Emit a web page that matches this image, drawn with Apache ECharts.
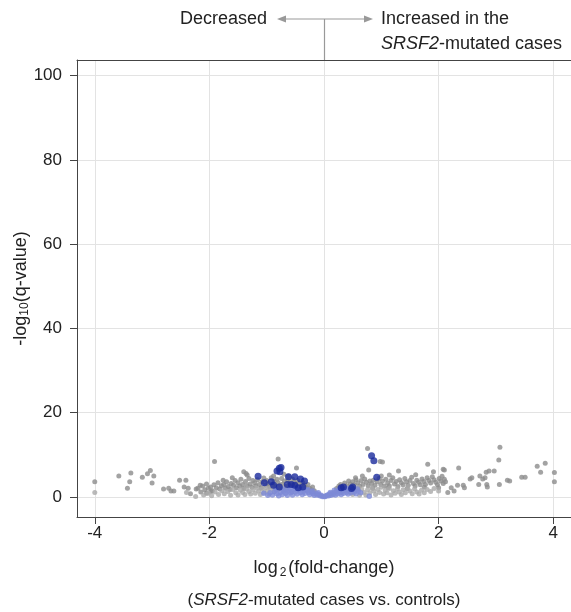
<!DOCTYPE html>
<html>
<head>
<meta charset="utf-8">
<script src="https://cdn.jsdelivr.net/npm/echarts@6/dist/echarts.min.js"></script>
<style>html,body{margin:0;padding:0;background:#fff;}#c{width:571px;height:612px;}</style>
</head>
<body>
<div id="c"></div>
<script>
// ---- data: [log2 fold-change, -log10 q-value] ----
const xTicks = [-4, -2, 0, 2, 4];
const yTicks = [0, 20, 40, 60, 80, 100];

const grayDark = [
  [-4.0,3.6],[-3.58,5.0],[-3.37,5.7],[-3.39,3.6],[-3.43,2.1],[-3.17,4.7],[-3.08,5.5],[-3.03,6.3],[-2.97,5.0],[-3.0,3.3],
  [-2.80,1.9],[-2.71,2.1],[-2.67,1.4],[-2.62,1.4],[-2.52,4.0],[-2.41,4.0],[-2.44,2.4],[-2.37,2.1],[-2.33,0.8],[-2.23,1.9],
  [-2.16,2.8],[-1.91,8.4],[-2.20,2.1],[-2.02,2.1],[-1.76,4.0],[-1.40,6.0],[-1.36,5.6],[-0.80,9.0],[-0.48,6.9],
  [-2.12,2.6],[-2.08,1.7],[-2.05,3.1],[-1.98,2.4],[-1.95,1.5],[-1.92,2.9],[-1.88,2.2],[-1.85,3.4],[-1.82,1.9],[-1.79,2.7],
  [-1.75,3.0],[-1.72,2.1],[-1.70,3.6],[-1.67,2.5],[-1.64,1.8],[-1.62,3.2],[-1.58,2.8],[-1.55,3.9],[-1.53,2.2],[-1.50,3.4],
  [-1.47,2.6],[-1.45,4.2],[-1.42,3.0],[-1.40,2.0],[-1.37,3.7],[-1.34,2.7],[-1.31,4.4],[-1.29,3.1],[-1.26,2.3],[-1.24,3.9],
  [-1.21,3.4],[-1.19,2.6],[-1.16,4.1],[-1.13,3.0],[-1.10,2.2],[-1.08,3.6],[-1.05,4.5],[-1.02,2.8],[-1.00,3.9],[-0.97,3.2],
  [-0.95,2.4],[-0.92,4.6],[-0.90,3.0],[-0.87,3.8],[-0.85,2.6],[-0.82,4.2],[-0.80,3.4],[-0.77,2.8],[-0.74,4.4],[-0.72,3.1],
  [-0.69,3.8],[-0.66,2.5],[-0.63,4.0],[-0.60,3.3],[-0.58,2.7],[-0.55,4.3],[-0.52,3.5],[-0.49,2.9],[-0.46,3.9],[-0.43,3.2],
  [-0.40,2.6],[-0.37,3.4],[-0.34,2.8],[-0.31,2.3],[-0.28,3.0],[-0.25,2.1],[-0.22,1.7],[-0.20,2.4],[-0.17,1.5],
  [-1.60,4.6],[-1.34,5.2],[-0.88,5.0],[-0.70,5.4],[-0.62,5.0],[-2.15,1.2],[-2.05,0.9],[-1.97,1.3],
  [0.76,11.5],[0.98,8.4],[1.02,8.3],[0.78,6.4],[0.67,5.0],[1.30,6.2],[1.81,7.8],[1.91,6.0],[2.08,6.6],[3.07,11.8],
  [3.05,8.8],[2.10,6.4],[2.35,6.9],[2.22,2.2],[2.16,1.1],[2.27,1.4],[2.33,2.8],[2.43,2.8],[2.45,2.2],[2.55,4.3],
  [2.58,4.6],[2.70,3.0],[2.72,5.0],[2.77,4.3],[2.81,4.6],[2.83,5.9],[2.88,6.2],[2.97,6.2],[2.84,3.0],[2.85,2.4],
  [3.06,3.0],[3.20,4.0],[3.24,3.8],[3.45,4.7],[3.51,4.7],[3.72,7.3],[3.86,8.0],[3.78,5.9],[4.02,5.8],[4.02,3.6],
  [0.22,2.0],[0.26,2.6],[0.29,3.0],[0.32,2.3],[0.36,3.3],[0.40,2.7],[0.43,3.8],[0.46,3.1],[0.50,3.6],[0.53,2.9],
  [0.56,4.1],[0.59,3.4],[0.62,2.6],[0.65,3.9],[0.68,3.0],[0.71,4.3],[0.74,3.5],[0.77,2.7],[0.80,3.8],[0.83,3.2],
  [0.86,4.0],[0.89,2.8],[0.93,3.6],[0.96,4.4],[0.99,3.0],[1.02,3.8],[1.05,2.6],[1.08,4.2],[1.11,3.3],[1.14,2.7],
  [1.17,3.9],[1.20,4.6],[1.23,3.1],[1.26,3.7],[1.29,2.5],[1.32,4.1],[1.35,3.4],[1.38,2.9],[1.41,4.4],[1.44,3.6],
  [1.47,2.8],[1.50,3.9],[1.53,4.7],[1.56,3.2],[1.59,2.6],[1.62,4.0],[1.65,3.5],[1.68,2.9],[1.71,4.3],[1.74,3.7],
  [1.77,3.0],[1.80,4.6],[1.83,3.9],[1.86,3.3],[1.89,4.8],[1.92,4.1],[1.95,3.5],[1.98,2.9],[2.01,4.4],[2.04,3.8],
  [2.06,4.9],[2.08,3.2],[2.10,4.2],[2.12,3.6],[0.55,4.6],[1.00,5.0],[1.60,5.3],[1.14,5.2],[0.60,1.9],[0.85,2.1],
  [1.12,2.2],[1.45,2.0],[1.75,2.3],[2.00,2.2]
];

const grayLight = [
  [-4.0,1.1],[-2.40,1.1],[-2.24,0.1],
  [-2.10,0.5],[-2.02,0.9],[-1.96,0.3],[-1.90,1.2],[-1.84,0.6],[-1.78,1.5],[-1.74,0.8],[-1.68,1.3],[-1.63,0.4],[-1.59,1.8],
  [-1.54,1.0],[-1.50,0.5],[-1.46,1.6],[-1.42,1.1],[-1.38,0.6],[-1.35,1.9],[-1.31,1.3],[-1.28,0.7],[-1.24,1.7],[-1.20,0.9],
  [-1.17,2.1],[-1.14,1.4],[-1.11,0.6],[-1.08,1.9],[-1.05,1.1],[-1.02,2.2],[-0.99,1.5],[-0.96,0.7],[-0.93,1.8],[-0.90,2.3],
  [-0.87,1.2],[-0.84,2.0],[-0.81,1.6],[-0.78,2.4],[-0.75,1.9],[-0.72,2.2],[-0.68,1.7],[-0.64,2.1],
  [0.42,1.8],[0.46,1.2],[0.50,0.6],[0.54,1.6],[0.58,2.2],[0.62,0.4],[0.66,1.9],[0.70,1.1],[0.73,0.5],[0.76,1.7],
  [0.80,1.0],[0.84,2.1],[0.87,1.4],[0.90,0.6],[0.94,1.8],[0.97,1.1],[1.00,2.3],[1.04,0.7],[1.07,1.6],[1.10,1.0],
  [1.14,2.0],[1.17,0.5],[1.21,1.5],[1.24,0.9],[1.28,1.9],[1.31,1.2],[1.35,0.6],[1.38,1.7],[1.42,1.0],[1.46,2.1],
  [1.50,1.4],[1.54,0.8],[1.58,1.9],[1.62,1.2],[1.66,0.7],[1.70,1.6],[1.75,1.0],[1.80,1.8],[1.86,1.3],[1.92,2.0],[2.00,1.4]
];

const blueLight = [
  [-1.05,0.9],[-0.98,0.4],[-0.94,1.0],[-0.90,0.5],[-0.86,1.3],[-0.82,0.8],[-0.79,0.3],[-0.76,1.1],[-0.73,0.6],[-0.70,1.4],
  [-0.67,0.9],[-0.64,0.4],[-0.61,1.5],[-0.58,1.0],[-0.55,0.5],[-0.52,1.7],[-0.50,1.2],[-0.47,0.7],[-0.44,1.6],[-0.41,1.1],
  [-0.38,0.6],[-0.35,1.4],[-0.33,0.9],[-0.30,1.6],[-0.27,1.1],[-0.25,0.6],[-0.22,1.2],[-0.19,0.8],[-0.17,0.4],[-0.14,0.9],
  [-0.12,0.5],[-0.09,0.6],[-0.07,0.3],[-0.05,0.4],[-0.03,0.15],[0.0,0.1],[-0.60,2.0],[-0.48,2.1],[-0.36,1.9],[-0.28,1.7],
  [-0.84,1.8],[-0.72,1.9],[-0.66,1.6],[-0.56,1.3],[-0.42,1.8],[-0.20,1.4],[-0.10,1.0],
  [0.02,0.1],[0.04,0.3],[0.06,0.5],[0.08,0.3],[0.10,0.7],[0.12,0.4],[0.14,0.9],[0.16,0.6],[0.18,1.1],[0.20,0.5],
  [0.22,1.3],[0.24,0.8],[0.26,1.5],[0.28,1.0],[0.30,0.6],[0.32,1.4],[0.34,0.9],[0.37,1.7],[0.39,1.1],[0.42,0.7],
  [0.44,1.5],[0.47,1.0],[0.50,1.8],[0.53,1.2],[0.56,0.8],[0.60,1.4],[0.64,1.0],[0.79,0.2],[0.18,1.6],[0.27,1.9],[0.40,2.0],
  [0.11,1.1],[0.35,1.6],[0.58,1.9]
];

const blueDark = [
  [-1.15,4.9],[-1.04,3.4],[-0.92,3.6],[-0.88,2.8],[-0.78,6.8],[-0.75,7.0],[-0.82,6.2],[-0.77,6.0],[-0.78,2.4],[-0.62,4.8],
  [-0.51,4.8],[-0.41,4.3],[-0.34,3.8],[-0.64,3.0],[-0.57,3.0],[-0.51,2.8],[-0.37,2.4],[-0.45,2.2],
  [0.83,9.8],[0.87,8.6],[0.92,4.7],[0.34,2.4],[0.50,2.4],[0.30,2.2],[0.48,2.0]
];

const FONT = 'Liberation Sans, Arial, sans-serif';
const chart = echarts.init(document.getElementById('c'), null, {renderer: 'canvas'});

chart.setOption({
  animation: false,
  backgroundColor: '#fff',
  grid: {left: 77, right: 0, top: 60, bottom: 95, containLabel: false, outerBoundsMode: 'none'},
  xAxis: [
    {
      type: 'value', min: -4.31, max: 4.31,
      axisLine: {show: true, onZero: false, lineStyle: {color: '#444', width: 1}},
      axisTick: {show: true, length: 7, lineStyle: {color: '#444'}, customValues: xTicks},
      axisLabel: {color: '#222', fontSize: 17, fontFamily: FONT, margin: 8, customValues: xTicks},
      splitLine: {show: true, lineStyle: {color: '#e3e3e3', width: 1}},
      name: 'log{sub|2}(fold-change)',
      nameLocation: 'middle', nameGap: 41, nameMoveOverlap: false,
      nameTextStyle: {color: '#222', fontSize: 18, fontFamily: FONT,
        rich: {sub: {fontSize: 12, fontFamily: FONT, color: '#222', verticalAlign: 'bottom', padding: [9, 2, 0, 2]}}}
    },
    {type: 'value', position: 'top', min: -4.31, max: 4.31,
      axisLine: {show: true, onZero: false, lineStyle: {color: '#444', width: 1}},
      axisTick: {show: false}, axisLabel: {show: false}, splitLine: {show: false}}
  ],
  yAxis: {
    type: 'value', min: -4.74, max: 103.7,
    axisLine: {show: true, onZero: false, lineStyle: {color: '#444', width: 1}},
    axisTick: {show: true, length: 7, lineStyle: {color: '#444'}, customValues: yTicks},
    axisLabel: {color: '#222', fontSize: 17, fontFamily: FONT, margin: 15, customValues: yTicks},
    splitLine: {show: true, lineStyle: {color: '#e3e3e3', width: 1}},
    name: '-log{sub|10}(q-value)',
    nameLocation: 'middle', nameGap: 46, nameRotate: 90, nameMoveOverlap: false,
    nameTextStyle: {color: '#222', fontSize: 18, fontFamily: FONT,
      rich: {sub: {fontSize: 12, fontFamily: FONT, color: '#222', verticalAlign: 'bottom', padding: [7, 0, 0, 0]}}}
  },
  series: [
    {type: 'scatter', data: grayDark, symbolSize: 5, itemStyle: {color: '#8c8c8c'}, z: 2},
    {type: 'scatter', data: grayLight, symbolSize: 5, itemStyle: {color: '#a9a9a9'}, z: 3},
    {type: 'scatter', data: blueLight, symbolSize: 5.5, itemStyle: {color: '#7d8ad6'}, z: 4},
    {type: 'scatter', data: blueDark, symbolSize: 7, itemStyle: {color: '#1a2a9c'}, z: 5}
  ],
  graphic: [
    {type: 'line', shape: {x1: 324.5, y1: 19, x2: 324.5, y2: 60}, style: {stroke: '#999', lineWidth: 1.2}, z: 10},
    {type: 'line', shape: {x1: 284, y1: 19, x2: 365, y2: 19}, style: {stroke: '#999', lineWidth: 1.2}, z: 10},
    {type: 'polygon', shape: {points: [[277, 19], [286, 15.5], [286, 22.5]]}, style: {fill: '#999'}, z: 10},
    {type: 'polygon', shape: {points: [[373, 19], [364, 15.5], [364, 22.5]]}, style: {fill: '#999'}, z: 10},
    {type: 'text', x: 267, y: 19, style: {text: 'Decreased', fill: '#222', font: '18px ' + FONT, textAlign: 'right', textVerticalAlign: 'middle'}},
    {type: 'text', x: 381, y: 19, style: {text: 'Increased in the', fill: '#222', font: '18px ' + FONT, textAlign: 'left', textVerticalAlign: 'middle'}},
    {type: 'text', x: 381, y: 44, style: {text: '{i|SRSF2}-mutated cases', fill: '#222', font: '18px ' + FONT, textAlign: 'left', textVerticalAlign: 'middle',
      rich: {i: {fontStyle: 'italic', fontSize: 18, fontFamily: FONT, fill: '#222'}}}},
    {type: 'text', x: 324, y: 600, style: {text: '({i|SRSF2}-mutated cases vs. controls)', fill: '#222', font: '17px ' + FONT, textAlign: 'center', textVerticalAlign: 'middle',
      rich: {i: {fontStyle: 'italic', fontSize: 17, fontFamily: FONT, fill: '#222'}}}}
  ]
});
</script>
</body>
</html>
